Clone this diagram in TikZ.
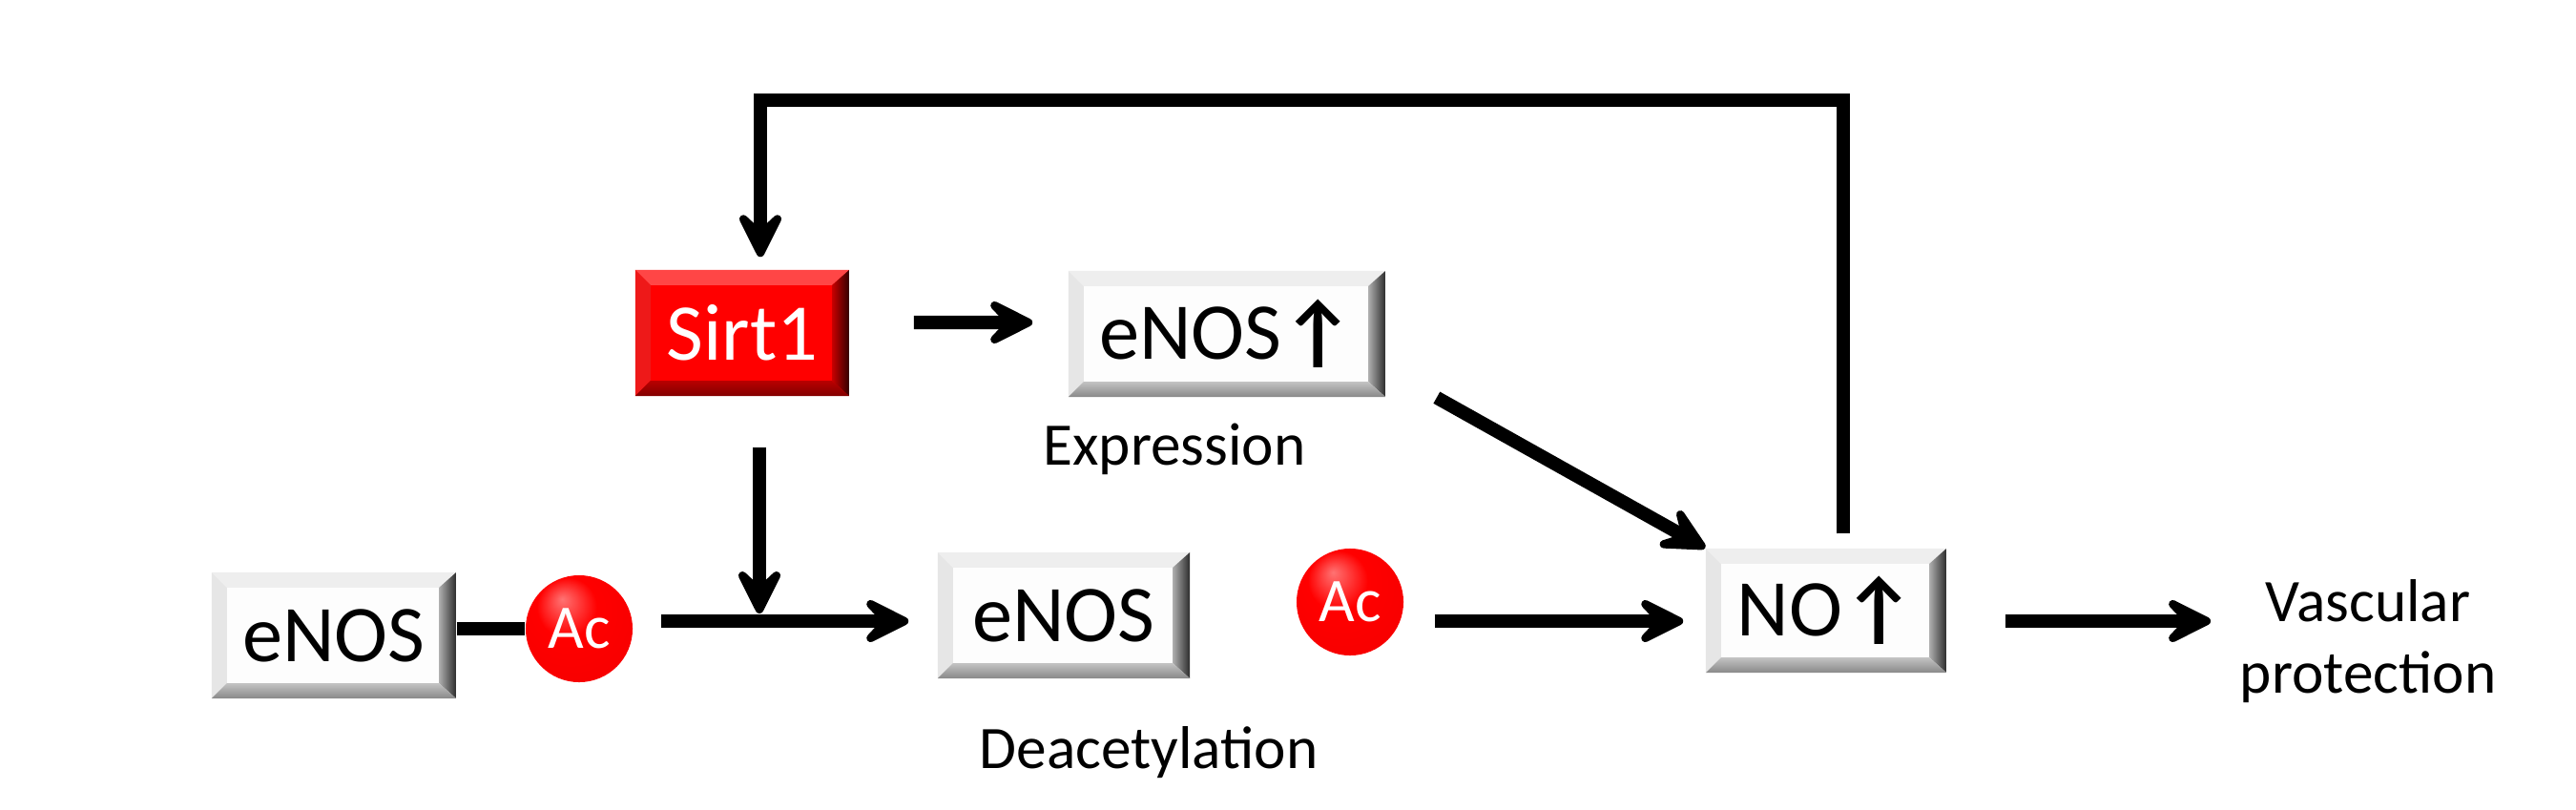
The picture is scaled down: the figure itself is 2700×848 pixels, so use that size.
\documentclass[tikz,border=0pt]{standalone}
\usepackage{fontspec}
\setmainfont{Carlito}
\usepackage{xcolor}
\usetikzlibrary{arrows.meta,shadings}

\definecolor{plateface}{RGB}{253,253,253}
\definecolor{platetop}{RGB}{238,238,238}
\definecolor{plateleft}{RGB}{230,230,230}
\definecolor{plateright}{RGB}{175,175,175}
\definecolor{platebottom}{RGB}{195,195,195}
\definecolor{redface}{RGB}{255,0,0}
\definecolor{redtop}{RGB}{255,70,70}
\definecolor{redleft}{RGB}{238,25,25}
\definecolor{redright}{RGB}{200,0,0}
\definecolor{redbottom}{RGB}{185,0,0}

\pgfdeclareradialshading{redball}{\pgfpoint{-8bp}{14bp}}{%
  color(0bp)=(red!55!white); color(14bp)=(red); color(38bp)=(red!96!black); color(50bp)=(red!70!black)}

\newcommand{\uparr}{{\bfseries\char"2191}}

\tikzset{
  bevel/.style n args={5}{fill=#1, path picture={
      \coordinate (pnw) at (path picture bounding box.north west);
      \coordinate (pse) at (path picture bounding box.south east);
      \coordinate (pne) at (pnw -| pse);
      \coordinate (psw) at (pse -| pnw);
      \fill[#2] (pnw) -- (pne) -- ([shift={(-18,16)}]pne) -- ([shift={(16,16)}]pnw) -- cycle;
      \fill[#3] (pnw) -- ([shift={(16,16)}]pnw) -- ([shift={(16,-16)}]psw) -- (psw) -- cycle;
      \shade[left color=#4, right color=#4!25!black] (pne) -- (pse) -- ([shift={(-18,-16)}]pse) -- ([shift={(-18,16)}]pne) -- cycle;
      \shade[top color=#5, bottom color=#5!70!black] (psw) -- (pse) -- ([shift={(-18,-16)}]pse) -- ([shift={(16,-16)}]psw) -- cycle;
    }},
  plate/.style={rectangle, inner sep=0pt, minimum height=1.32cm, font=\fontsize{24}{29}\selectfont,
    bevel={plateface}{platetop}{plateleft}{plateright}{platebottom}},
  redplate/.style={rectangle, inner sep=0pt, minimum height=1.32cm, text=white, font=\fontsize{24}{29}\selectfont,
    bevel={redface}{redtop}{redleft}{redright}{redbottom}},
  acball/.style={circle, inner sep=0pt, minimum size=1.12cm, shading=redball, text=white,
    font=\fontsize{18.5}{22}\selectfont},
  caption/.style={inner sep=0pt, font=\fontsize{18}{21.5}\selectfont},
  arr/.style={line width=0.14cm, -{Stealth[length=0.64cm, width=0.64cm, inset=0.3cm, round]}},
  link/.style={line width=0.14cm}
}

\begin{document}
\begin{tikzpicture}[x=0.01cm, y=-0.01cm]
\useasboundingbox (0,0) rectangle (2700,848);

% boxes
\node[redplate, minimum width=2.24cm] (sirt1) at (778,349) {Sirt1};
\node[plate, minimum width=3.32cm] (enosU) at (1286,350) {eNOS\uparr};
\node[plate, minimum width=2.56cm] (enosL) at (350,666) {eNOS};
\node[acball] (acL) at (607,659) {Ac};
\node[plate, minimum width=2.64cm] (enosM) at (1115,645) {eNOS};
\node[acball] (acM) at (1415,631) {Ac};
\node[plate, minimum width=2.52cm, minimum height=1.30cm] (no) at (1914,640) {NO\uparr};

% labels
\node[caption, anchor=base] (expr) at (1231,487) {Expression};
\node[caption, anchor=base] (deac) at (1204,805) {Deacetylation};
\node[caption, align=center] (vasc) at (2482,672) {Vascular\\protection};

\coordinate (row) at (0,651);
\coordinate (junc) at (796,651);
\coordinate (fb) at (797,105);

% connectors
\draw[link] (enosL.east |- acL.west) -- (acL.west);
\draw[arr, shorten <=0.29cm, shorten >=0.30cm] (acL.east |- row) -- (enosM.west |- row);
\draw[arr, shorten <=0.53cm, shorten >=0.08cm] (sirt1.south -| junc) -- (junc);
\draw[arr, shorten <=0.67cm, shorten >=0.37cm] ([yshift=0.11cm]sirt1.east) -- ([yshift=0.12cm]enosU.west);
\draw[arr] ([xshift=0.53cm]enosU.south east) -- (no.north west);
\draw[arr, shorten <=0.32cm, shorten >=0.23cm] (acM.east |- row) -- (no.west |- row);
\draw[arr, shorten <=0.61cm, shorten >=0.30cm] (no.east |- row) -- (vasc.west |- row);
\draw[arr, shorten <=0.15cm, shorten >=0.13cm] ([xshift=0.18cm]no.north) |- (fb) -- (fb |- sirt1.north);
\end{tikzpicture}
\end{document}
